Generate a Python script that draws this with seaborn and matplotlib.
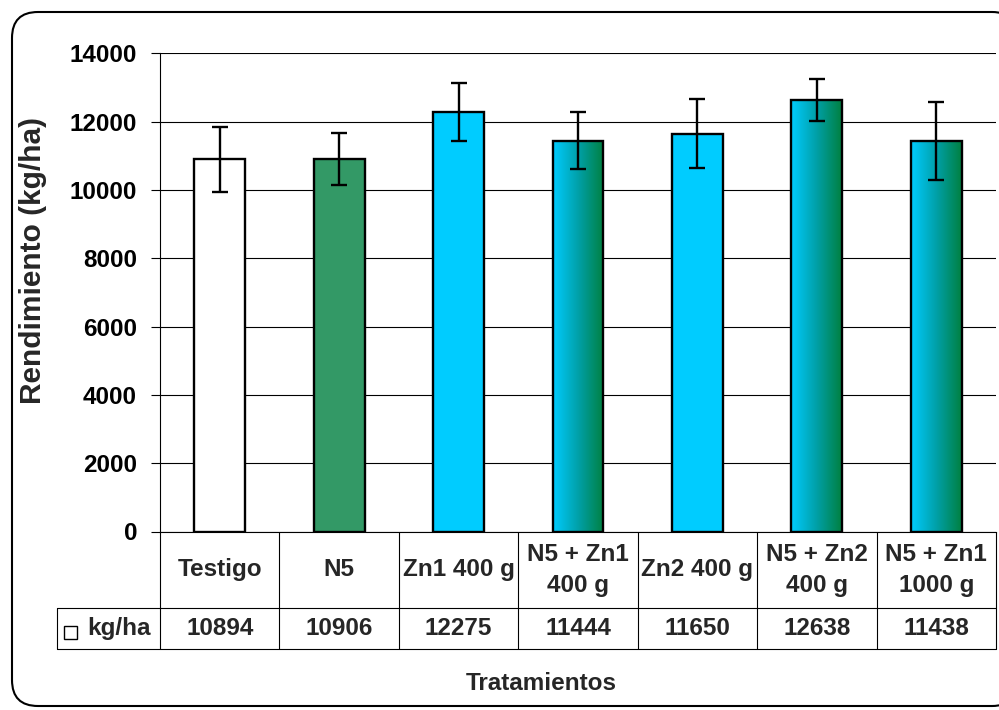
import numpy as np
import matplotlib
matplotlib.use("Agg")
import matplotlib.pyplot as plt
import seaborn as sns
from matplotlib.patches import FancyBboxPatch, Rectangle
from matplotlib.colors import LinearSegmentedColormap
from matplotlib.transforms import IdentityTransform

# ==================================
# Data
# ==================================
tratamientos = ["Testigo", "N5", "Zn1 400 g", "N5 + Zn1\n400 g", "Zn2 400 g",
                "N5 + Zn2\n400 g", "N5 + Zn1\n1000 g"]
rendimiento = [10894, 10906, 12275, 11444, 11650, 12638, 11438]
error = [950, 770, 850, 825, 1000, 610, 1140]
colores = ["#FFFFFF", "#339966", "#00CCFF", "#00CCFF", "#00CCFF", "#00CCFF", "#00CCFF"]
degradado = [False, False, False, True, False, True, True]
yticks = [0, 2000, 4000, 6000, 8000, 10000, 12000, 14000]

sns.set_style("white")
plt.rcParams["font.family"] = ["Liberation Sans", "DejaVu Sans"]
plt.rcParams["font.weight"] = "bold"
FS = 17.5

W, H = 999, 710
fig = plt.figure(figsize=(W / 100, H / 100), dpi=100)

# rounded chart frame (pixel coords)
frame = FancyBboxPatch((12, 4), 1006, 694, boxstyle="round,pad=0,rounding_size=26",
                       transform=IdentityTransform(), facecolor="white",
                       edgecolor="black", linewidth=1.5, zorder=0)
fig.add_artist(frame)

ax_l, ax_r, ax_t, ax_b = 160, 996, 53.3, 531.5
ax = fig.add_axes([ax_l / W, (H - ax_b) / H, (ax_r - ax_l) / W, (ax_b - ax_t) / H])
ax.patch.set_alpha(0)

sns.barplot(x=tratamientos, y=rendimiento, hue=tratamientos,
            palette=dict(zip(tratamientos, colores)), legend=False,
            width=0.425, edgecolor="black", linewidth=1.7, saturation=1, ax=ax)

# horizontal gradient for N5 + Zn bars
cmap = LinearSegmentedColormap.from_list("cz", ["#00CCFF", "#00A0A8", "#008040"])
grad = np.linspace(0, 1, 256).reshape(1, -1)
for patch, g in zip(ax.patches, degradado):
    if g:
        x0, w, h = patch.get_x(), patch.get_width(), patch.get_height()
        im = ax.imshow(grad, extent=[x0, x0 + w, 0, h], aspect="auto", cmap=cmap,
                       zorder=patch.get_zorder() - 0.01)
        im.set_clip_path(patch)
        patch.set_facecolor("none")

pos = np.arange(len(tratamientos))
ax.errorbar(pos, rendimiento, yerr=error, fmt="none", ecolor="black",
            elinewidth=1.7, capsize=5.5, capthick=1.7, zorder=5)

ax.set_xlim(-0.5, len(tratamientos) - 0.5)
ax.set_ylim(0, 14000)
ax.set_yticks(yticks)
ax.set_yticklabels([str(t) for t in yticks], fontsize=FS, fontweight="bold")
ax.set_xticks([])
ax.set_xlabel("")
ax.set_axisbelow(True)
ax.yaxis.grid(True, color="black", linewidth=0.8)
ax.tick_params(axis="y", left=True, length=6.5, width=0.8, pad=10, colors="black")
for s in ["top", "right"]:
    ax.spines[s].set_visible(False)
for s in ["left", "bottom"]:
    ax.spines[s].set_color("black")
    ax.spines[s].set_linewidth(0.8)

ax.set_ylabel("Rendimiento (kg/ha)", fontsize=21.5, fontweight="bold")
ax.yaxis.label.set_verticalalignment("center")
ax.yaxis.set_label_coords((33 - ax_l) / (ax_r - ax_l), (ax_b - 261) / (ax_b - ax_t))

# ==================================
# Data table under the axis
# ==================================
tr = ax.get_xaxis_transform()
hpx = ax_b - ax_t
y_head = -(607.7 - ax_b) / hpx
y_data = -(649.0 - ax_b) / hpx
x_lab = -0.5 + (57.3 - ax_l) / (ax_r - ax_l) * len(tratamientos)
lk = dict(color="black", lw=0.8, transform=tr, clip_on=False)
for xv in np.arange(-0.5, len(tratamientos), 1.0):
    ax.plot([xv, xv], [0, y_data], **lk)
ax.plot([x_lab, len(tratamientos) - 0.5], [y_head, y_head], **lk)
ax.plot([x_lab, len(tratamientos) - 0.5], [y_data, y_data], **lk)
ax.plot([x_lab, x_lab], [y_head, y_data], **lk)

for p, lab, v in zip(pos, tratamientos, rendimiento):
    ax.text(p, y_head / 2, lab, transform=tr, ha="center", va="center",
            fontsize=FS, fontweight="bold", linespacing=1.45)
    ax.text(p, (y_head + y_data) / 2, str(v), transform=tr, ha="center",
            va="center", fontsize=FS, fontweight="bold")

# legend key in the row label cell
px2x = len(tratamientos) / (ax_r - ax_l)
ax.add_patch(Rectangle((-0.5 + (64 - ax_l) * px2x, -(639 - ax_b) / hpx),
                       13 * px2x, 13 / hpx, transform=tr, clip_on=False,
                       facecolor="white", edgecolor="black", lw=1.0))
ax.text(-0.5 + (87 - ax_l) * px2x, (y_head + y_data) / 2, "kg/ha", transform=tr,
        ha="left", va="center", fontsize=FS, fontweight="bold")

fig.text(541 / W, 1 - 684 / H, "Tratamientos", ha="center", va="center",
         fontsize=FS, fontweight="bold")

fig.savefig("out.png", dpi=100)
